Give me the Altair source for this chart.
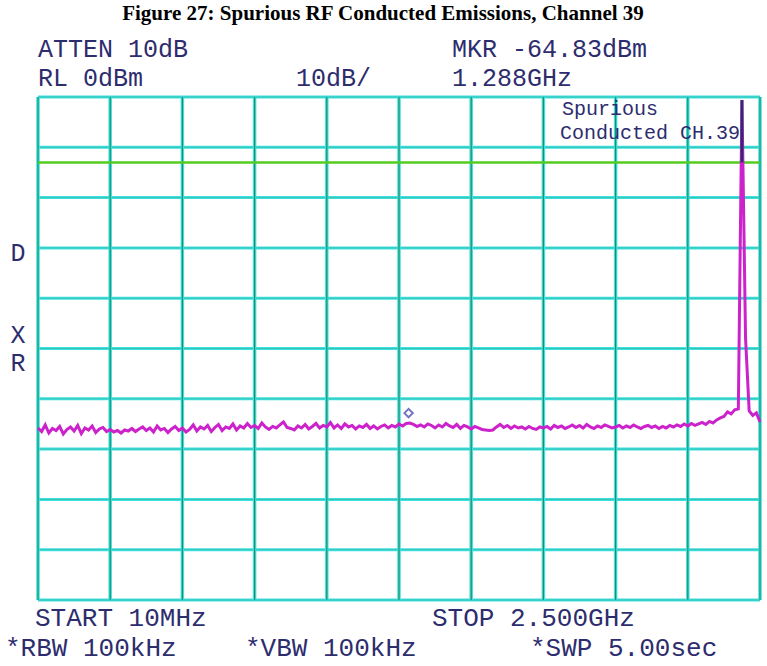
import altair as alt
import numpy as np
import pandas as pd

# ---- data ----
START_MHZ = 10
STOP_MHZ = 2500
N_POINTS = 201
levels_dbm = [
    -65.8, -66.5, -65.2, -66.8, -65.9, -66.3, -65.5, -67.0, -66.1, -65.6,
    -66.4, -65.3, -66.9, -65.8, -66.2, -65.4, -66.7, -66.0, -65.7, -66.5,
    -66.1, -66.6, -66.3, -66.8, -66.2, -66.4, -65.9, -66.5, -66.0, -65.6,
    -66.3, -65.8, -66.6, -65.4, -66.2, -65.9, -66.7, -66.0, -65.5, -66.3,
    -65.8, -66.6, -66.1, -65.2, -66.4, -65.6, -66.0, -65.3, -66.5, -65.7,
    -65.1, -66.3, -65.6, -65.9, -65.0, -66.2, -65.4, -65.8, -64.9, -65.7,
    -65.3, -65.9, -64.8, -65.6, -66.1, -65.5, -65.8, -65.2, -64.6, -65.7,
    -65.9, -66.2, -65.4, -65.8, -65.1, -66.0, -65.5, -64.9, -65.8, -65.3,
    -65.6, -64.7, -65.8, -65.2, -65.9, -65.0, -65.6, -65.3, -66.0, -65.4,
    -65.7, -65.1, -65.9, -65.4, -66.0, -65.5, -65.2, -65.8, -65.3, -65.6,
    -65.0, -65.4, -64.9, -64.83, -65.1, -65.5, -65.2, -65.6, -65.0, -65.3,
    -65.8, -65.2, -65.6, -64.9, -65.4, -65.7, -65.1, -65.9, -65.3, -65.6,
    -66.0, -65.5, -65.8, -66.1, -66.2, -66.3, -66.2, -65.6, -65.1, -65.7,
    -65.3, -65.9, -65.4, -65.8, -65.6, -66.0, -65.5, -65.9, -66.1, -65.6,
    -65.8, -65.5, -66.0, -65.3, -65.7, -65.4, -65.9, -65.6, -65.2, -65.7,
    -65.3, -65.8, -65.1, -65.6, -65.9, -65.4, -65.7, -65.2, -65.5, -65.8,
    -65.6, -65.3, -65.8, -65.4, -65.7, -65.2, -65.6, -65.9, -65.5, -65.3,
    -65.7, -65.4, -65.9, -65.5, -65.8, -65.3, -65.6, -65.2, -65.5, -65.0,
    -65.4, -64.9, -65.3, -65.0, -64.7, -65.1, -64.5, -64.8, -64.2, -63.8,
    -63.5, -62.6, -63.0, -62.2, -62.0, -0.6, -48.0, -62.4, -63.3, -62.8,
    -64.6,
]
freq_mhz = np.linspace(START_MHZ, STOP_MHZ, N_POINTS)
marker_freq_mhz = [1288]
marker_level_dbm = [-64.83]
limit_dbm = [-13]
peak_freq_mhz = [float(freq_mhz[195])]
peak_top_dbm = [-0.6]
ref_level_dbm = 0
db_per_div = 10

x_grid = [START_MHZ + i * (STOP_MHZ - START_MHZ) / 10 for i in range(11)]
y_grid = [ref_level_dbm - i * db_per_div for i in range(11)]

trace = pd.DataFrame({"freq": freq_mhz, "level": levels_dbm})

W, H = 722, 503
CYAN = "#3fe0e0"
TEAL = "#1f8f6a"
MAG = "#cc22cc"
NAVY = "#2d2d6e"
GREEN = "#55cc22"
MONO = "Liberation Mono"

xs = alt.Scale(domain=[START_MHZ, STOP_MHZ], nice=False, zero=False)
ys = alt.Scale(domain=[-100, 0], nice=False, zero=False)
X = lambda f: alt.X(f, type="quantitative", scale=xs, axis=None)
Y = lambda f: alt.Y(f, type="quantitative", scale=ys, axis=None)

hgrid_df = pd.DataFrame({"y": y_grid})
vgrid_df = pd.DataFrame({"x": x_grid})

hgrid = alt.Chart(hgrid_df).mark_rule(color=CYAN, strokeWidth=3).encode(y=Y("y"))
hcore = alt.Chart(hgrid_df).mark_rule(color=TEAL, strokeWidth=1, opacity=0.35).encode(y=Y("y"))
vgrid = alt.Chart(vgrid_df).mark_rule(color=CYAN, strokeWidth=3.5).encode(x=X("x"))
vcore = alt.Chart(vgrid_df).mark_rule(color=TEAL, strokeWidth=1.2).encode(x=X("x"))

limit = alt.Chart(pd.DataFrame({"y": limit_dbm})).mark_rule(
    color=GREEN, strokeWidth=2.5).encode(y=Y("y"))

line = alt.Chart(trace).mark_line(color=MAG, strokeWidth=3, interpolate="linear").encode(
    x=X("freq"), y=Y("level"))

peak_top = alt.Chart(pd.DataFrame({"f": peak_freq_mhz, "top": peak_top_dbm, "bot": limit_dbm})).mark_rule(
    color=NAVY, strokeWidth=2.8).encode(x=X("f"), y=Y("top"), y2="bot")

marker = alt.Chart(pd.DataFrame({"f": marker_freq_mhz, "l": marker_level_dbm})).mark_point(
    shape="diamond", filled=False, color="#3a3aa8", strokeWidth=2, size=70, yOffset=-10).encode(
    x=X("f"), y=Y("l"))


def label(txt, x, y, size=25, font=MONO, weight="normal", align="left", color=NAVY):
    return alt.Chart(alt.Data(values=[{}])).mark_text(
        font=font, fontSize=size, fontWeight=weight, align=align, baseline="middle", color=color
    ).encode(text=alt.value(txt), x=alt.value(x), y=alt.value(y))


texts = [
    label("Figure 27: Spurious RF Conducted Emissions, Channel 39", 345, -83, size=21,
          font="Liberation Serif", weight="bold", align="center", color="black"),
    label("ATTEN 10dB", 0, -48),
    label("RL 0dBm", 0, -19),
    label("10dB/", 258, -19),
    label("MKR -64.83dBm", 414, -48),
    label("1.288GHz", 414, -19),
    label("Spurious", 524, 12, size=20),
    label("Conducted CH.39", 522, 36, size=20),
    label("D", -20, 156, align="center"),
    label("X", -20, 238, align="center"),
    label("R", -20, 266, align="center"),
    label("START 10MHz", -3, 521, size=26),
    label("STOP 2.500GHz", 394, 521, size=26),
    label("*RBW 100kHz", -33, 551, size=26),
    label("*VBW 100kHz", 207, 551, size=26),
    label("*SWP 5.00sec", 492, 551, size=26),
]

chart = alt.layer(
    hgrid, hcore, vgrid, vcore, limit, line, peak_top, marker, *texts
).properties(
    width=W, height=H,
    autosize=alt.AutoSizeParams(type="none"),
    padding={"left": 38, "top": 97, "right": 7, "bottom": 66},
    background="white",
).configure_view(stroke=None)

chart.save("out.html", embed_options={"renderer": "svg", "actions": False})
